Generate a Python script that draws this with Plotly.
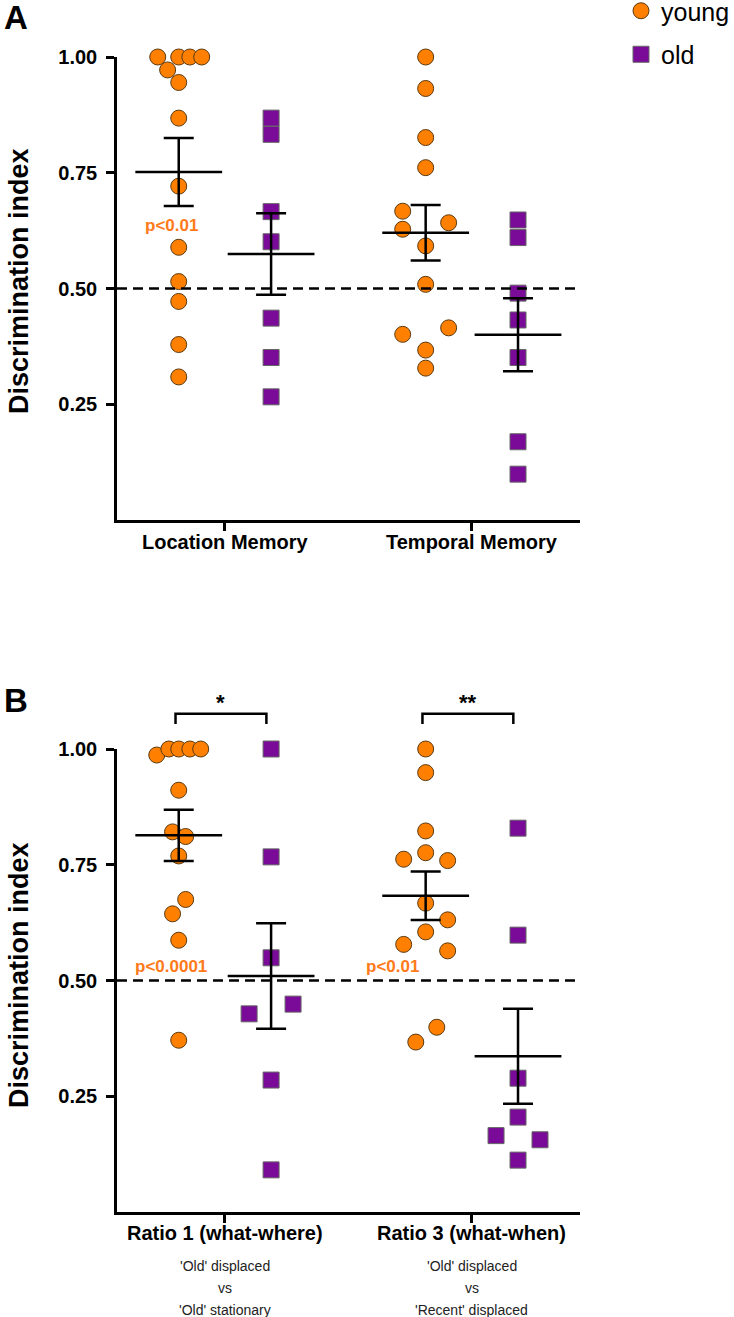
import numpy as np
import plotly.graph_objects as go

# ---------------- data ----------------
cats_a = ["Location Memory", "Temporal Memory"]
cats_b = ["Ratio 1 (what-where)", "Ratio 3 (what-when)"]
sub_b = [["'Old' displaced", "vs", "'Old' stationary"],
         ["'Old' displaced", "vs", "'Recent' displaced"]]

loc_young = [1.00, 1.00, 1.00, 1.00, 0.972, 0.945, 0.868, 0.721, 0.589, 0.515, 0.472, 0.379, 0.309]
loc_young_jit = [-0.085, 0.0, 0.045, 0.093, -0.045, 0, 0, 0, 0, 0, 0, 0, 0]
loc_old = [0.868, 0.833, 0.666, 0.601, 0.436, 0.351, 0.266]
loc_old_jit = [0, 0, 0, 0, 0, 0, 0]

tem_young = [1.00, 0.932, 0.826, 0.761, 0.667, 0.642, 0.628, 0.592, 0.509, 0.415, 0.401, 0.367, 0.328]
tem_young_jit = [0, 0, 0, 0, -0.093, 0.093, -0.093, 0, 0, 0.093, -0.093, 0, 0]
tem_old = [0.648, 0.610, 0.490, 0.432, 0.351, 0.169, 0.099]
tem_old_jit = [0, 0, 0, 0, 0, 0, 0]

r1_young = [0.987, 1.00, 1.00, 1.00, 1.00, 0.911, 0.821, 0.811, 0.769, 0.675, 0.644, 0.587, 0.371]
r1_young_jit = [-0.089, -0.04, 0.0, 0.045, 0.089, 0, -0.025, 0.028, 0, 0.028, -0.025, 0, 0]
r1_old = [1.00, 0.767, 0.549, 0.449, 0.428, 0.285, 0.091]
r1_old_jit = [0, 0, 0, 0.089, -0.089, 0, 0]

r3_young = [1.00, 0.949, 0.823, 0.776, 0.762, 0.759, 0.667, 0.631, 0.605, 0.578, 0.564, 0.399, 0.367]
r3_young_jit = [0, 0, 0, 0, -0.089, 0.089, 0, 0.089, 0, -0.089, 0.089, 0.045, -0.04]
r3_old = [0.829, 0.598, 0.289, 0.205, 0.165, 0.156, 0.112]
r3_old_jit = [0, 0, 0, 0, -0.089, 0.089, 0]

p_a = [("p<0.01", 0, -0.215, 0.637)]
p_b = [("p<0.0001", 0, -0.22, 0.531), ("p<0.01", 1, -0.32, 0.531)]
stars_b = ["*", "**"]

yticks = [0.25, 0.50, 0.75, 1.00]
ytick_text = ["0.25", "0.50", "0.75", "1.00"]

# ---------------- style ----------------
ORANGE = "#FF8000"
PURPLE = "#7A0A98"
PTXT = "#FF7A1A"
FONT = "Liberation Sans, Arial, sans-serif"
OFF = 0.187
XR = [-0.437, 1.438]
W, H = 734, 1317
ML, MR, MT, MB = 117, 154, 57, 105
PH = H - MT - MB
PW = W - ML - MR


def py(p):
    return (H - MB - p) / PH


def px(p):
    return (p - ML) / PW


def xdom(v):
    return (v - XR[0]) / (XR[1] - XR[0])


fig = go.Figure()

panels = [
    ("x", "y", [(loc_young, loc_young_jit, loc_old, loc_old_jit),
                (tem_young, tem_young_jit, tem_old, tem_old_jit)], True),
    ("x2", "y2", [(r1_young, r1_young_jit, r1_old, r1_old_jit),
                  (r3_young, r3_young_jit, r3_old, r3_old_jit)], False),
]

for xa, ya, groups, leg in panels:
    for ci, (yv, yj, ov, oj) in enumerate(groups):
        fig.add_trace(go.Scatter(
            x=[ci - OFF + j for j in yj], y=yv, mode="markers", xaxis=xa, yaxis=ya,
            name="young", legendgroup="young", showlegend=(leg and ci == 0),
            cliponaxis=False,
            marker=dict(symbol="circle", size=16, color=ORANGE,
                        line=dict(color="#5a3a12", width=1))))
        fig.add_trace(go.Scatter(
            x=[ci + OFF + j for j in oj], y=ov, mode="markers", xaxis=xa, yaxis=ya,
            name="old", legendgroup="old", showlegend=(leg and ci == 0),
            cliponaxis=False,
            marker=dict(symbol="square", size=16, color=PURPLE,
                        line=dict(color="#666666", width=1))))
    # mean +- SEM
    for ci, (yv, yj, ov, oj) in enumerate(groups):
        for vals, pos in ((yv, ci - OFF), (ov, ci + OFF)):
            a = np.array(vals)
            m = a.mean()
            s = a.std(ddof=1) / np.sqrt(len(a))
            fig.add_trace(go.Scatter(
                x=[pos], y=[m], mode="markers", xaxis=xa, yaxis=ya, showlegend=False,
                cliponaxis=False, hoverinfo="skip",
                marker=dict(symbol="line-ew", size=62, color="black",
                            line=dict(color="black", width=2.5)),
                error_y=dict(type="data", array=[s], visible=True, color="black",
                             thickness=2.5, width=15)))

axis_common = dict(showgrid=False, zeroline=False, showline=True, linecolor="black",
                   linewidth=2.5, ticks="outside", ticklen=8, tickwidth=2.5,
                   tickcolor="black", automargin=False)
yaxis_common = dict(axis_common, range=[0, 1.0], tickvals=yticks, ticktext=ytick_text,
                    tickfont=dict(family=FONT, size=20, color="black", weight="bold"),
                    ticklabelstandoff=5)
xaxis_common = dict(axis_common, range=XR, tickvals=[0, 1], showticklabels=False)

fig.update_layout(
    width=W, height=H, margin=dict(l=ML, r=MR, t=MT, b=MB, autoexpand=False),
    paper_bgcolor="white", plot_bgcolor="white",
    font=dict(family=FONT, color="black"),
    xaxis=dict(xaxis_common, domain=[0, 1], anchor="y"),
    yaxis=dict(yaxis_common, domain=[py(520), 1.0], anchor="x"),
    xaxis2=dict(xaxis_common, domain=[0, 1], anchor="y2"),
    yaxis2=dict(yaxis_common, domain=[0, py(749)], anchor="x2"),
    showlegend=True,
    legend=dict(x=px(621), y=py(-12), xanchor="left", yanchor="top",
                font=dict(family=FONT, size=25, color="black"),
                tracegroupgap=8, bgcolor="rgba(0,0,0,0)"),
)

shapes = []
for xa, ya in (("x", "y"), ("x2", "y2")):
    shapes.append(dict(type="line", xref=f"{xa} domain", yref=ya, x0=0, x1=1,
                       y0=0.5, y1=0.5, line=dict(color="black", width=2.5, dash="10px,6px")))
# significance brackets (panel B)
for ci in range(2):
    x0, x1 = xdom(ci - 0.2), xdom(ci + 0.168)
    shapes.append(dict(type="path", xref="x2 domain", yref="y2 domain",
                       path=f"M {x0},1.054 L {x0},1.076 L {x1},1.076 L {x1},1.054",
                       line=dict(color="black", width=2.5)))
fig.update_layout(shapes=shapes)

ann = []
# panel letters
ann.append(dict(text="<b>A</b>", xref="paper", yref="paper", x=px(2), y=py(17),
                xanchor="left", yanchor="middle", showarrow=False,
                font=dict(family=FONT, size=33, color="black")))
ann.append(dict(text="<b>B</b>", xref="paper", yref="paper", x=px(2), y=py(700),
                xanchor="left", yanchor="middle", showarrow=False,
                font=dict(family=FONT, size=33, color="black")))
# y titles
for cy in (281, 975):
    ann.append(dict(text="<b>Discrimination index</b>", xref="paper", yref="paper",
                    x=px(19), y=py(cy), xanchor="center", yanchor="middle",
                    textangle=-90, showarrow=False,
                    font=dict(family=FONT, size=27, color="black")))
# category labels
for xa, cats, cy in (("x", cats_a, 542), ("x2", cats_b, 1233)):
    for ci, c in enumerate(cats):
        ann.append(dict(text=f"<b>{c}</b>", xref=xa, yref="paper", x=ci, y=py(cy),
                        xanchor="center", yanchor="middle", showarrow=False,
                        font=dict(family=FONT, size=20, color="black")))
# p values
for t, ci, dx, yy in p_a:
    ann.append(dict(text=f"<b>{t}</b>", xref="x", yref="y domain", x=ci + dx, y=yy,
                    showarrow=False, font=dict(family=FONT, size=17, color=PTXT)))
for t, ci, dx, yy in p_b:
    ann.append(dict(text=f"<b>{t}</b>", xref="x2", yref="y2 domain", x=ci + dx, y=yy,
                    showarrow=False, font=dict(family=FONT, size=17, color=PTXT)))
# stars
for ci, st in enumerate(stars_b):
    ann.append(dict(text=f"<b>{st}</b>", xref="x2", yref="y2 domain", x=ci - 0.016, y=1.069,
                    xanchor="center", yanchor="bottom", showarrow=False,
                    font=dict(family=FONT, size=22, color="black")))
# sub labels
for ci, lines in enumerate(sub_b):
    for li, line in enumerate(lines):
        ann.append(dict(text=line, xref="x2", yref="paper", x=ci, y=py(1266 + 22 * li),
                        xanchor="center", yanchor="middle", showarrow=False,
                        font=dict(family=FONT, size=14, color="#222222")))
fig.update_layout(annotations=ann)

fig.write_html("out.html", config={"displayModeBar": False},
               post_script="document.body.style.margin='0';")
